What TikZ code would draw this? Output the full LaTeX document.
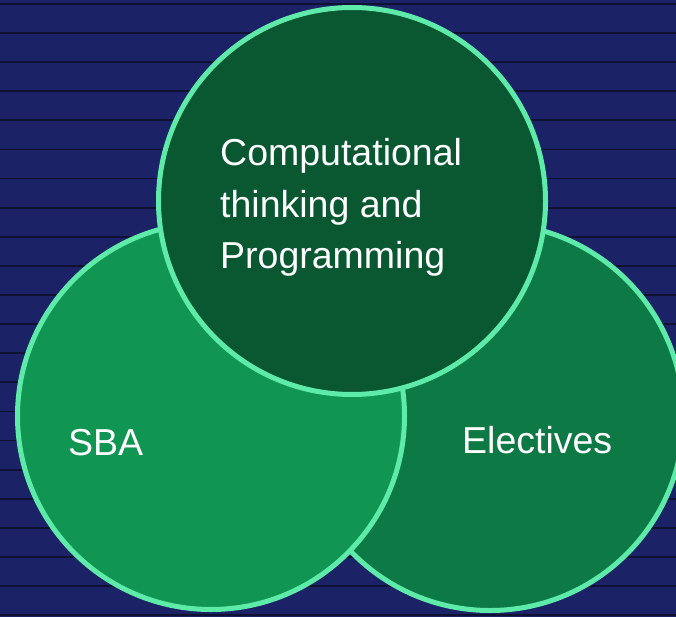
\documentclass[tikz,border=0pt]{standalone}
\usepackage{fontspec}
\setmainfont{Liberation Sans}
\definecolor{bgblue}{HTML}{1B2266}
\definecolor{stripe}{HTML}{0F1232}
\definecolor{ring}{HTML}{5EEAA8}
\definecolor{topfill}{HTML}{0A5832}
\definecolor{leftfill}{HTML}{109552}
\definecolor{rightfill}{HTML}{0D7A45}
\begin{document}
\begin{tikzpicture}[x=1pt,y=-1pt,
  venn/.style={circle, draw=ring, line width=5pt, inner sep=0pt, minimum size=387pt},
  lbl/.style={text=white, inner sep=0pt, font=\fontsize{37.5}{51}\selectfont}]
\fill[bgblue] (0,0) rectangle (676,617);
\useasboundingbox (0,0) rectangle (676,617);
\foreach \k in {0,...,21}{
  \draw[stripe, line width=1.8pt] (0,{4+29.1*\k}) -- (676,{4+29.1*\k});
}
\begin{scope}
\clip (0,0) rectangle (676,617);
\node[venn, fill=rightfill] (electives) at (490,417) {};
\node[venn, fill=leftfill] (sba) at (211,416) {};
\node[venn, fill=topfill] (ctp) at (352,201) {};
\end{scope}
\node[lbl, anchor=base west, align=left] (ctptext) at (220,268) {Computational\\thinking and\\Programming};
\node[lbl, anchor=base west] (sbatext) at (68,455) {SBA};
\node[lbl, anchor=base west] (electext) at (462,453) {Electives};
\end{tikzpicture}
\end{document}
